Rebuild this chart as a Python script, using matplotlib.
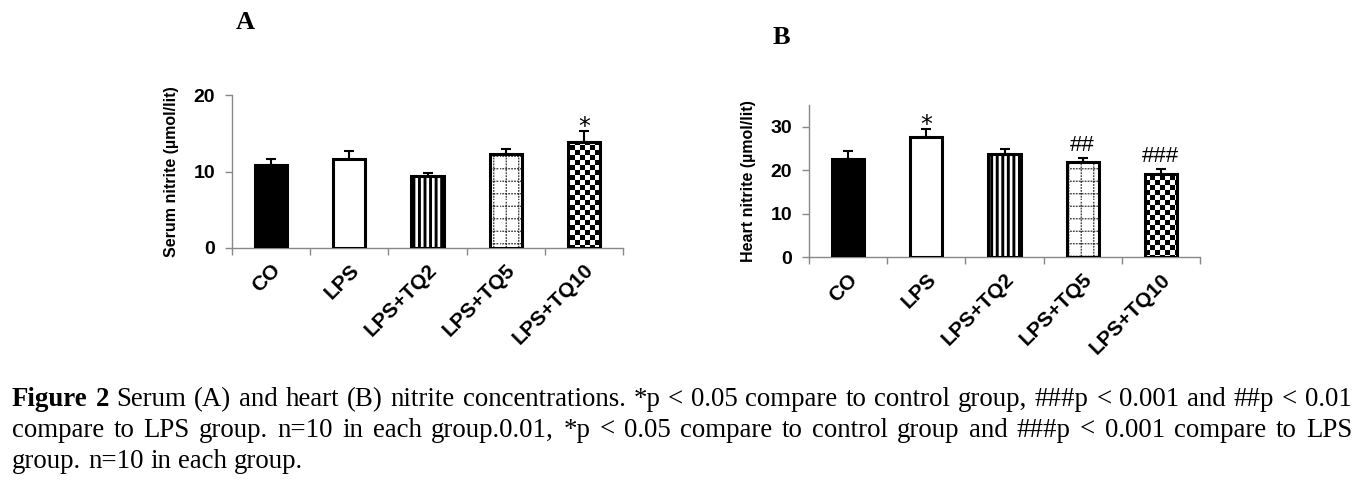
import warnings
import numpy as np
import matplotlib
matplotlib.use('Agg')
import matplotlib.pyplot as plt
import matplotlib.hatch as mhatch
from matplotlib.path import Path

warnings.filterwarnings('ignore', message='.*hatch must consist.*')

# ---------------- data ----------------
categories = ['CO', 'LPS', 'LPS+TQ2', 'LPS+TQ5', 'LPS+TQ10']
serum_mean = [10.8, 11.6, 9.4, 12.3, 13.8]
serum_sem = [0.8, 1.1, 0.4, 0.7, 1.5]
serum_marks = ['', '', '', '', '*']
serum_ticks = [0, 10, 20]
serum_ymax = 20

heart_mean = [22.6, 27.6, 23.7, 21.9, 19.1]
heart_sem = [1.9, 1.9, 1.3, 1.0, 1.2]
heart_marks = ['', '*', '', '##', '###']
heart_ticks = [0, 10, 20, 30]
heart_ymax = 35

caption_lines = [
    [('Figure 2', 'bold'),
     ('Serum (A) and heart (B) nitrite concentrations. *p < 0.05 compare to control group, '
      '###p < 0.001 and ##p < 0.01', 'normal')],
    [('compare to LPS group. n=10 in each group.0.01, *p < 0.05 compare to control group '
      'and ###p < 0.001 compare to LPS', 'normal')],
    [('group. n=10 in each group.', 'normal')],
]
caption_justify = [True, True, False]


# ---------------- custom hatches ----------------
class CheckerHatch(mhatch.HatchPatternBase):
    filled = True

    def __init__(self, hatch, density):
        self.n = 20 if 'c' in hatch else 0
        self.num_vertices = 5 * (self.n * self.n // 2)

    def set_vertices_and_codes(self, vertices, codes):
        s = 1.0 / self.n
        k = 0
        for i in range(self.n):
            for j in range(self.n):
                if (i + j) % 2 == 0:
                    x0, y0 = i * s, j * s
                    vertices[k:k + 5] = [[x0, y0], [x0 + s, y0], [x0 + s, y0 + s],
                                         [x0, y0 + s], [x0, y0]]
                    codes[k:k + 5] = [Path.MOVETO, Path.LINETO, Path.LINETO,
                                      Path.LINETO, Path.CLOSEPOLY]
                    k += 5


class DottedGridHatch(mhatch.HatchPatternBase):
    def __init__(self, hatch, density):
        self.lines = 8 if 'g' in hatch else 0
        self.dashes = 34
        self.num_vertices = 2 * 2 * self.lines * self.dashes

    def set_vertices_and_codes(self, vertices, codes):
        k = 0
        p = 1.0 / self.dashes
        for li in range(self.lines):
            c = (li + 0.5) / self.lines
            for d in range(self.dashes):
                a = d * p
                b = a + 0.2 * p
                vertices[k:k + 2] = [[c, a], [c, b]]
                codes[k:k + 2] = [Path.MOVETO, Path.LINETO]
                k += 2
                vertices[k:k + 2] = [[a, c], [b, c]]
                codes[k:k + 2] = [Path.MOVETO, Path.LINETO]
                k += 2


mhatch._hatch_types.append(CheckerHatch)
mhatch._hatch_types.append(DottedGridHatch)

# bar styles per category
fills = ['black', 'white', 'white', 'white', 'white']
hatches = [None, None, '|||', 'g', 'c']
hatch_colors = ['black', 'black', 'black', '#333333', 'black']
hatch_lws = [1.0, 1.0, 2.1, 0.9, 0.01]

SANS = 'Liberation Sans'
SERIF = 'Liberation Serif'
AXC = '#888888'

fig = plt.figure(figsize=(13.66, 4.91), dpi=100)
W, H = 1366.0, 491.0


def with_hatch_lw(patch, lw):
    orig = patch.draw

    def draw(renderer):
        with plt.rc_context({'hatch.linewidth': lw}):
            orig(renderer)
    patch.draw = draw


def panel(rect, means, sems, marks, yticks, ymax, ylabel, label_x):
    ax = fig.add_axes(rect)
    x = np.arange(len(categories))
    for i in range(len(categories)):
        layer = ax.bar(x[i], means[i], width=0.41, color=fills[i],
                       edgecolor=hatch_colors[i], linewidth=0,
                       hatch=hatches[i], zorder=2)
        for p in layer:
            if hasattr(p, 'set_hatch_linewidth'):
                p.set_hatch_linewidth(hatch_lws[i])
            with_hatch_lw(p, hatch_lws[i])
    ax.errorbar(x, means, yerr=[np.zeros(len(means)), sems], fmt='none',
                ecolor='black', elinewidth=1.5, capsize=3.6, capthick=1.5,
                zorder=1)
    ax.bar(x, means, width=0.41, fill=False, edgecolor='black',
           linewidth=2.2, zorder=3)
    for i, m in enumerate(marks):
        if m:
            is_star = m.startswith('*')
            ax.annotate(m, (x[i], means[i] + sems[i]),
                        xytext=(0, -2.0 if is_star else 5.0),
                        textcoords='offset points', ha='center', va='baseline',
                        fontsize=17 if is_star else 16,
                        family='DejaVu Sans' if is_star else SANS)
    ax.set_xlim(-0.5, len(categories) - 0.5)
    ax.set_ylim(0, ymax)
    ax.set_yticks(yticks)
    ax.set_xticks(x)
    ax.set_xticklabels(categories, rotation=45, ha='right', va='top',
                       rotation_mode='anchor', fontsize=15, fontweight='bold',
                       family=SANS)
    ax.set_xticks(np.arange(len(categories) + 1) - 0.5, minor=True)
    ax.tick_params(axis='x', which='major', length=0, pad=9)
    ax.tick_params(axis='x', which='minor', length=5, color=AXC, width=1)
    ax.tick_params(axis='y', length=5, color=AXC, width=1, labelsize=14, pad=7)
    for lab in ax.get_yticklabels():
        lab.set_fontweight('bold')
        lab.set_family(SANS)
    for s in ['top', 'right']:
        ax.spines[s].set_visible(False)
    for s in ['left', 'bottom']:
        ax.spines[s].set_color(AXC)
        ax.spines[s].set_linewidth(1.0)
    ax.set_ylabel(ylabel, fontsize=11.5, fontweight='bold', family=SANS)
    ax.yaxis.set_label_coords(label_x, 0.5)
    return ax


axA = panel([232 / W, 1 - 248 / H, (623 - 232) / W, (248 - 95) / H],
            serum_mean, serum_sem, serum_marks, serum_ticks, serum_ymax,
            'Serum nitrite (µmol/lit)', -0.136)
axB = panel([809 / W, 1 - 257.3 / H, (1200 - 809) / W, (257.3 - 105) / H],
            heart_mean, heart_sem, heart_marks, heart_ticks, heart_ymax,
            'Heart nitrite (µmol/lit)', -0.136)

fig.text(245 / W, 1 - 29 / H, 'A', ha='center', va='baseline', fontsize=19,
         fontweight='bold', family=SERIF)
fig.text(781 / W, 1 - 44 / H, 'B', ha='center', va='baseline', fontsize=19,
         fontweight='bold', family=SERIF)

# ---------------- caption (justified) ----------------
renderer = fig.canvas.get_renderer()


def words_of(line):
    out = []
    for seg, wt in line:
        for w in seg.split(' '):
            if w:
                out.append((w, wt))
    return out


def measure(s, wt, fs):
    t = fig.text(0, 0, s, fontsize=fs, fontweight=wt, family=SERIF)
    w = t.get_window_extent(renderer).width
    t.remove()
    return w


def natural_width(line, fs):
    ws = words_of(line)
    sp = measure('a a', 'normal', fs) - measure('aa', 'normal', fs)
    return sum(measure(w, wt, fs) for w, wt in ws) + sp * (len(ws) - 1)


x_left, x_right = 12.0, 1352.0
base_fs = 16.0
nat = max(natural_width(caption_lines[0], base_fs), natural_width(caption_lines[1], base_fs))
fs = base_fs * 1325.0 / nat
space_w = measure('a a', 'normal', fs) - measure('aa', 'normal', fs)
baselines = [406.0, 437.0, 468.0]

for line, just, yb in zip(caption_lines, caption_justify, baselines):
    ws = words_of(line)
    widths = [measure(w, wt, fs) for w, wt in ws]
    if just and len(ws) > 1:
        gap = (x_right - x_left - sum(widths)) / (len(ws) - 1)
    else:
        gap = space_w
    xc = x_left
    for (w, wt), wd in zip(ws, widths):
        fig.text(xc / W, 1 - yb / H, w, fontsize=fs, fontweight=wt,
                 family=SERIF, ha='left', va='baseline')
        xc += wd + gap

fig.savefig('out.png', dpi=100)
